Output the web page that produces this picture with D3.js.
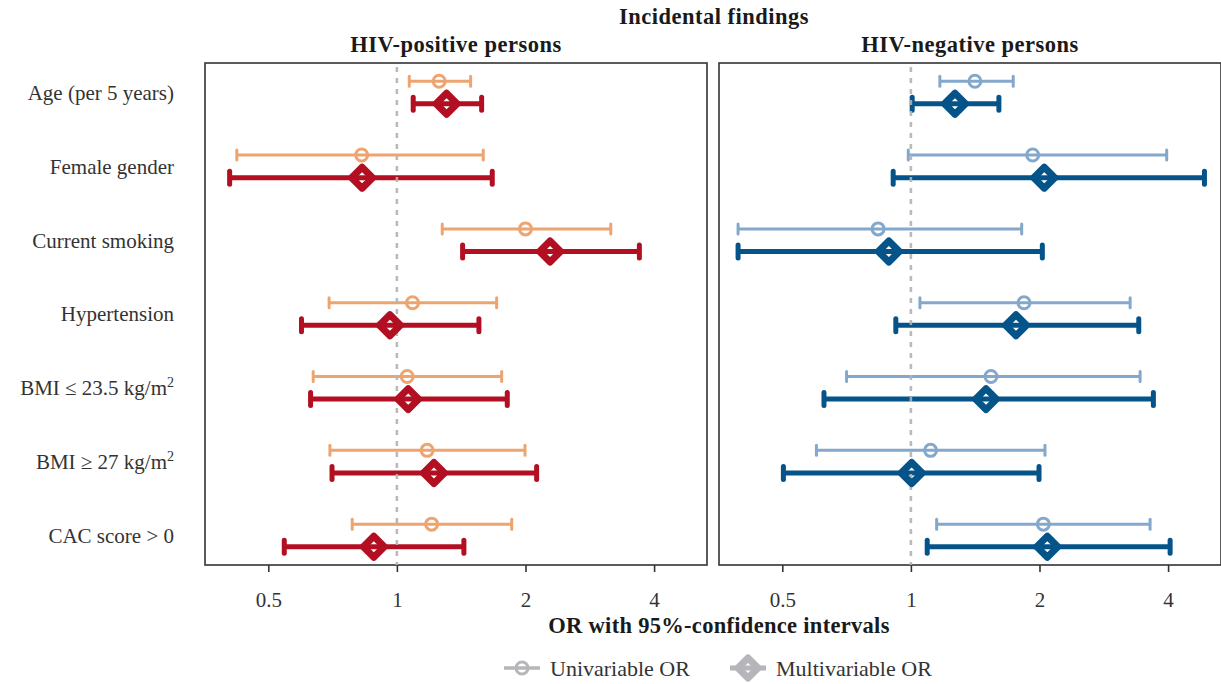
<!DOCTYPE html>
<html><head><meta charset="utf-8">
<script src="https://cdn.jsdelivr.net/npm/d3@7/dist/d3.min.js"></script>
<style>body{margin:0;background:#fff}svg{display:block}
svg text{font-family:"Liberation Serif","Times New Roman","DejaVu Serif",serif;}</style>
</head><body>
<svg id="c" width="1221" height="684"></svg>
<script>
const categories = ["Age (per 5 years)","Female gender","Current smoking","Hypertension","BMI ≤ 23.5 kg/m²","BMI ≥ 27 kg/m²","CAC score > 0"];
const panels = ["HIV-positive persons","HIV-negative persons"];
const tickValues = [0.5,1,2,4];
// HIV-positive
const posUniOR = [1.256,0.827,2.00,1.088,1.057,1.177,1.206];
const posUniLo = [1.069,0.422,1.277,0.694,0.637,0.697,0.786];
const posUniHi = [1.488,1.593,3.167,1.712,1.759,1.995,1.857];
const posMultiOR = [1.307,0.829,2.283,0.963,1.063,1.221,0.883];
const posMultiLo = [1.092,0.406,1.425,0.598,0.628,0.705,0.545];
const posMultiHi = [1.579,1.672,3.695,1.556,1.813,2.124,1.435];
// HIV-negative
const negUniOR = [1.412,1.928,0.838,1.84,1.54,1.112,2.042];
const negUniLo = [1.169,0.986,0.394,1.05,0.707,0.601,1.149];
const negUniHi = [1.736,3.97,1.817,3.26,3.44,2.06,3.63];
const negMultiOR = [1.268,2.052,0.888,1.762,1.499,1.004,2.086];
const negMultiLo = [1.007,0.909,0.394,0.922,0.626,0.503,1.092];
const negMultiHi = [1.607,4.866,2.031,3.415,3.695,1.995,4.044];

const colors = {pos:{uni:"#EEA470",multi:"#B30F22"}, neg:{uni:"#84A8CB",multi:"#04548A"}};
const svg = d3.select("#c");
const yTop = 63, yBottom = 565;
const panelX = [[205,707],[719,1221]];
const y = d3.scalePoint().domain(categories).range([yTop,yBottom]).padding(0.4);
const off = 11.3;
const titleSize = 22.5;

svg.append("text").attr("x",714).attr("y",24).attr("text-anchor","middle")
  .attr("font-weight","bold").attr("font-size",titleSize).attr("letter-spacing",0.5).attr("fill","#1a1a1a").text("Incidental findings");

const data = [
  {key:"pos", uni:[posUniOR,posUniLo,posUniHi], multi:[posMultiOR,posMultiLo,posMultiHi]},
  {key:"neg", uni:[negUniOR,negUniLo,negUniHi], multi:[negMultiOR,negMultiLo,negMultiHi]}
];

data.forEach((d,pi)=>{
  const [x0,x1] = panelX[pi];
  const x = d3.scaleLog().base(2).domain([0.3555,5.32]).range([x0,x1]);
  const g = svg.append("g");
  g.append("text").attr("x",(x0+x1)/2).attr("y",52).attr("text-anchor","middle")
    .attr("font-weight","bold").attr("font-size",titleSize).attr("letter-spacing",0.5).attr("fill","#1a1a1a").text(panels[pi]);
  g.append("rect").attr("x",x0).attr("y",yTop).attr("width",x1-x0).attr("height",yBottom-yTop)
    .attr("fill","#fff").attr("stroke","#333").attr("stroke-width",1.6);
  const ax = g.append("g").attr("transform",`translate(0,${yBottom})`)
    .call(d3.axisBottom(x).tickValues(tickValues).tickFormat(d3.format("")).tickSize(7).tickSizeOuter(0));
  ax.select(".domain").remove();
  ax.attr("font-family",null);
  ax.selectAll(".tick line").attr("stroke","#333").attr("stroke-width",1.6);
  ax.selectAll(".tick text").attr("font-size",21).attr("fill","#333").attr("dy","1.5em");

  const rows = categories.map((c,i)=>({c,i}));
  const drawLines = (kind, dy, sw, capH, color) => {
    const arr = d[kind];
    g.selectAll(null).data(rows).join("line")
      .attr("x1",r=>x(arr[1][r.i])).attr("x2",r=>x(arr[2][r.i]))
      .attr("y1",r=>y(r.c)+dy).attr("y2",r=>y(r.c)+dy)
      .attr("stroke",color).attr("stroke-width",sw);
    [1,2].forEach(k=>{
      g.selectAll(null).data(rows).join("line")
        .attr("x1",r=>x(arr[k][r.i])).attr("x2",r=>x(arr[k][r.i]))
        .attr("y1",r=>y(r.c)+dy-capH/2).attr("y2",r=>y(r.c)+dy+capH/2)
        .attr("stroke",color).attr("stroke-width",sw).attr("stroke-linecap","round");
    });
  };
  drawLines("uni",-off,3,10,colors[d.key].uni);
  drawLines("multi",off,5,13,colors[d.key].multi);
  g.append("line").attr("x1",x(1)).attr("x2",x(1)).attr("y1",yTop+4).attr("y2",yBottom)
    .attr("stroke","#b3b3b3").attr("stroke-width",2.6).attr("stroke-dasharray","5,6").attr("opacity",0.9);
  g.selectAll(null).data(rows).join("circle")
    .attr("cx",r=>x(d.uni[0][r.i])).attr("cy",r=>y(r.c)-off).attr("r",6)
    .attr("fill","none").attr("stroke",colors[d.key].uni).attr("stroke-width",3);
  const s = 10.5;
  g.selectAll(null).data(rows).join("path")
    .attr("d",r=>{const cx=x(d.multi[0][r.i]), cy=y(r.c)+off;
      return `M${cx},${cy-s}L${cx+s},${cy}L${cx},${cy+s}L${cx-s},${cy}Z`;})
    .attr("fill","none").attr("stroke",colors[d.key].multi).attr("stroke-width",7).attr("stroke-linejoin","round");
});

svg.selectAll(null).data(categories).join("text")
  .attr("x",174).attr("y",c=>y(c)).attr("dy","0.35em").attr("text-anchor","end")
  .attr("font-size",21).attr("fill","#333")
  .each(function(c){
    const t = d3.select(this);
    if (c.endsWith("²")) {
      t.append("tspan").text(c.slice(0,-1));
      t.append("tspan").attr("font-size",14).attr("dy","-0.6em").text("2");
    } else t.text(c);
  });

svg.append("text").attr("x",719).attr("y",633).attr("text-anchor","middle")
  .attr("font-weight","bold").attr("font-size",titleSize).attr("letter-spacing",0.3).attr("fill","#1a1a1a").text("OR with 95%-confidence intervals");

const lg = svg.append("g");
const legGrey = "#b6b6ba";
lg.append("line").attr("x1",504).attr("x2",540).attr("y1",668).attr("y2",668).attr("stroke",legGrey).attr("stroke-width",3.5);
lg.append("circle").attr("cx",522).attr("cy",668).attr("r",6).attr("fill","none").attr("stroke",legGrey).attr("stroke-width",3);
lg.append("text").attr("x",550).attr("y",668).attr("dy","0.35em").attr("font-size",22).attr("fill","#333").text("Univariable OR");
lg.append("line").attr("x1",730).attr("x2",766).attr("y1",668).attr("y2",668).attr("stroke",legGrey).attr("stroke-width",5);
lg.append("path").attr("d","M748,658L758,668L748,678L738,668Z").attr("fill","none").attr("stroke",legGrey).attr("stroke-width",7).attr("stroke-linejoin","round");
lg.append("text").attr("x",776).attr("y",668).attr("dy","0.35em").attr("font-size",22).attr("fill","#333").text("Multivariable OR");
</script>
</body></html>
